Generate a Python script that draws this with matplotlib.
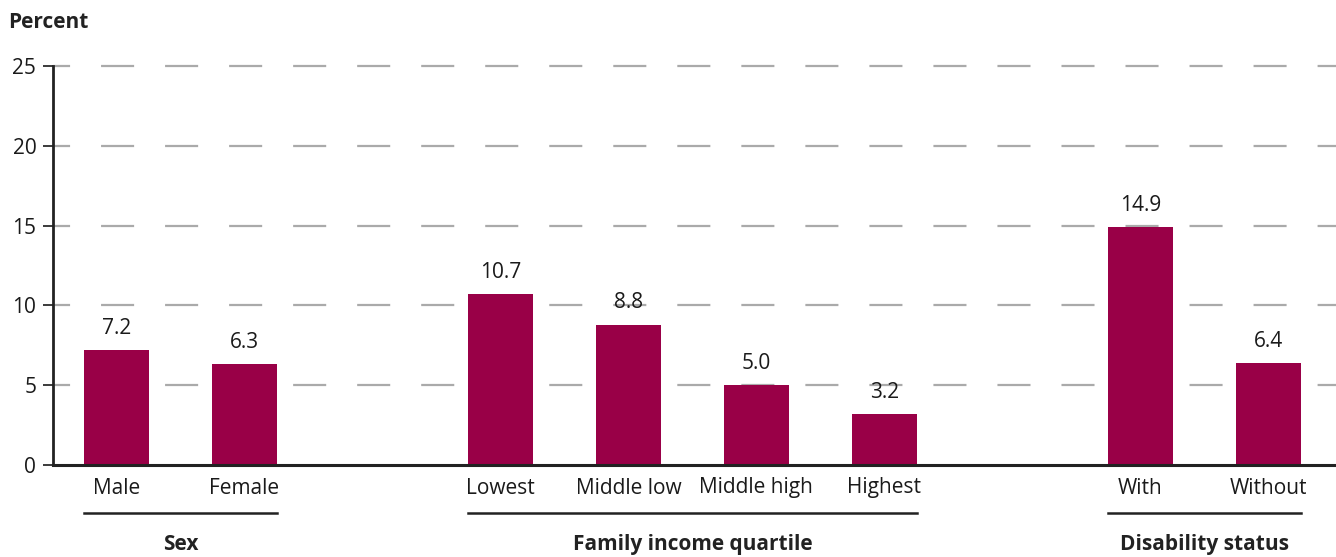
import matplotlib.pyplot as plt
import matplotlib.transforms as mtransforms

plt.rcParams['font.family'] = ['Open Sans', 'DejaVu Sans']
plt.rcParams['lines.scale_dashes'] = False

categories = ["Male", "Female", "Lowest", "Middle low", "Middle high", "Highest", "With", "Without"]
values = [7.2, 6.3, 10.7, 8.8, 5.0, 3.2, 14.9, 6.4]
groups = ["Sex", "Family income quartile", "Disability status"]
group_sizes = [2, 4, 2]
yticks = [0, 5, 10, 15, 20, 25]

bar_color = "#990047"
width = 0.51
fs = 15

# positions: one empty slot between groups
positions = []
pos = 0
group_spans = []
for n in group_sizes:
    start = pos
    for i in range(n):
        positions.append(pos)
        pos += 1
    group_spans.append((start, pos - 1))
    pos += 1

fig = plt.figure(figsize=(13.36, 5.57), dpi=100)
ax = fig.add_axes([53 / 1336, 92 / 557, 1 - 53 / 1336, 399 / 557])

# dashed grid; first dash is cut short at the axis
gtrans = ax.get_yaxis_transform()
for y in yticks[1:]:
    ax.plot([0, 1], [y, y], transform=gtrans, color="#aaaaaa", lw=1.6,
            linestyle=(11.5, (23.8, 22.3)), zorder=0, clip_on=False,
            solid_capstyle="butt", dash_capstyle="butt")

ax.bar(positions, values, width=width, color=bar_color, zorder=2)
for x, v in zip(positions, values):
    ax.annotate(f"{v:.1f}", (x, v), xytext=(0, 8), textcoords="offset points",
                ha="center", va="bottom", fontsize=fs, color="#1a1a1a")

ax.set_xlim(-0.496, 9.53)
ax.set_ylim(0, 25)
ax.set_yticks(yticks)
ax.tick_params(axis="y", length=7, width=1.2, labelsize=fs, pad=5, colors="#1a1a1a")
ax.set_xticks(positions)
ax.set_xticklabels(categories)
ax.tick_params(axis="x", length=0, labelsize=fs, pad=9, colors="#1a1a1a")

for s in ["top", "right"]:
    ax.spines[s].set_visible(False)
ax.spines["left"].set_linewidth(2)
ax.spines["bottom"].set_linewidth(2.2)
ax.spines["left"].set_color("#222222")
ax.spines["bottom"].set_color("#222222")

trans = mtransforms.blended_transform_factory(ax.transData, ax.transAxes)
for name, (a, b) in zip(groups, group_spans):
    ax.plot([a - width / 2, b + width / 2], [-0.12, -0.12], color="#222222", lw=1.8,
            transform=trans, clip_on=False)
    ax.text((a + b) / 2, -0.2, name, transform=trans, ha="center", va="center",
            fontsize=fs, fontweight="bold", color="#222222")

fig.text(8 / 1336, 1 - 22 / 557, "Percent", ha="left", va="center",
         fontsize=fs, fontweight="bold", color="#222222")

fig.savefig("out.png", dpi=100)
